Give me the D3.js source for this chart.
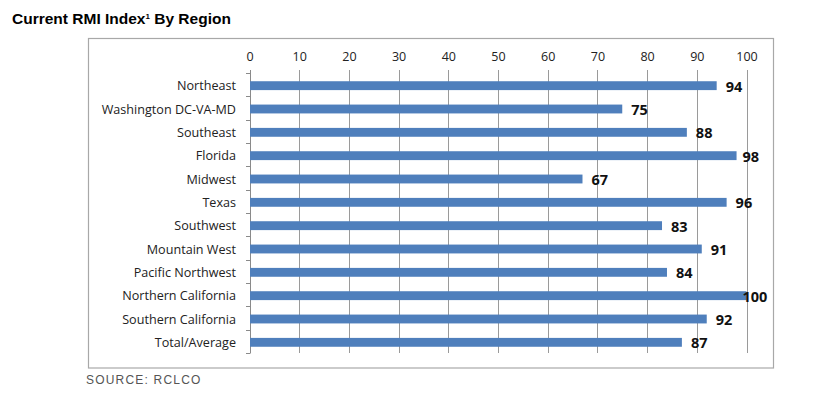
<!DOCTYPE html>
<html><head><meta charset="utf-8">
<script src="https://cdn.jsdelivr.net/npm/d3@7"></script>
<style>
html,body{margin:0;padding:0;background:#fff;}
svg{display:block;}
</style></head>
<body>
<svg id="chart" width="833" height="398"></svg>
<script>
const categories = ["Northeast","Washington DC-VA-MD","Southeast","Florida","Midwest","Texas","Southwest","Mountain West","Pacific Northwest","Northern California","Southern California","Total/Average"];
const values = [94,75,88,98,67,96,83,91,84,100,92,87];
const tickValues = [0,10,20,30,40,50,60,70,80,90,100];
const titleText = "Current RMI Index";
const titleSup = "1";
const titleRest = " By Region";
const sourceText = "SOURCE: RCLCO";

const svg = d3.select("#chart");
const plot = {left: 249.5, right: 746.5, top: 73, bottom: 353};

// title
const t = svg.append("text").attr("x", 12).attr("y", 24)
  .attr("font-family", "Liberation Sans, Arial, sans-serif")
  .attr("font-weight", "bold").attr("font-size", 15.5).attr("fill", "#000");
t.append("tspan").text(titleText);
t.append("tspan").attr("font-size", 8).attr("dy", -5).text(titleSup);
t.append("tspan").attr("dy", 5).text(titleRest);

// frame
svg.append("rect").attr("x", 88.5).attr("y", 38.5).attr("width", 685).attr("height", 329.5)
  .attr("fill", "#fff").attr("stroke", "#a8a8a8").attr("stroke-width", 1.2);

const x = d3.scaleLinear().domain([0,100]).range([plot.left, plot.right]);
const y = d3.scaleBand().domain(categories).range([plot.top, plot.bottom]).paddingInner(0.62).paddingOuter(0.31);

// gridlines
svg.append("g").selectAll("line").data(tickValues.slice(1)).join("line")
  .attr("x1", d => Math.round(x(d)) + 0.5).attr("x2", d => Math.round(x(d)) + 0.5)
  .attr("y1", plot.top - 3).attr("y2", plot.bottom)
  .attr("stroke", "#9a9a9a").attr("stroke-width", 1);

// top axis
const xAxis = d3.axisTop(x).tickValues(tickValues).tickSize(0).tickPadding(0);
const gx = svg.append("g").attr("transform", `translate(0,${plot.top - 10})`).call(xAxis);
gx.select(".domain").remove();
gx.selectAll("text").attr("font-family", "Open Sans, sans-serif").attr("font-size", 12.5).attr("fill", "#222").attr("dy", "-0.15em");

// left axis line and ticks
svg.append("line").attr("x1", Math.round(x(0)) + 0.5).attr("x2", Math.round(x(0)) + 0.5)
  .attr("y1", plot.top - 3).attr("y2", plot.bottom).attr("stroke", "#8a8a8a");
const bounds = d3.range(categories.length + 1).map(i => plot.top + i * (plot.bottom - plot.top) / categories.length);
svg.append("g").selectAll("line").data(bounds).join("line")
  .attr("x1", Math.round(x(0)) - 4).attr("x2", Math.round(x(0)) + 0.5)
  .attr("y1", d => Math.round(d) + 0.5).attr("y2", d => Math.round(d) + 0.5)
  .attr("stroke", "#8a8a8a");

// category labels
svg.append("g").selectAll("text").data(categories).join("text")
  .attr("x", 236).attr("y", d => y(d) + y.bandwidth() / 2 + 1)
  .attr("text-anchor", "end").attr("dominant-baseline", "central")
  .attr("font-family", "Open Sans, sans-serif").attr("font-size", 12.6).attr("fill", "#222")
  .text(d => d);

// bars
svg.append("g").selectAll("rect").data(values).join("rect")
  .attr("x", x(0) + 0.5)
  .attr("y", (d, i) => y(categories[i]) + 1)
  .attr("width", d => x(d) - x(0) - 0.5)
  .attr("height", y.bandwidth())
  .attr("fill", "#4f7fbc");

// value labels
svg.append("g").selectAll("text").data(values).join("text")
  .attr("x", d => Math.min(x(d) + 9, plot.right - 4))
  .attr("y", (d, i) => y(categories[i]) + y.bandwidth() / 2 + 1.5)
  .attr("dominant-baseline", "central")
  .attr("font-family", "Open Sans, sans-serif").attr("font-weight", "bold")
  .attr("font-size", 14.5).attr("fill", "#111")
  .text(d => d);

// source
svg.append("text").attr("x", 86).attr("y", 384)
  .attr("font-family", "Liberation Sans, Arial, sans-serif").attr("font-size", 12)
  .attr("letter-spacing", 1.2).attr("fill", "#555").text(sourceText);
</script>
</body></html>
